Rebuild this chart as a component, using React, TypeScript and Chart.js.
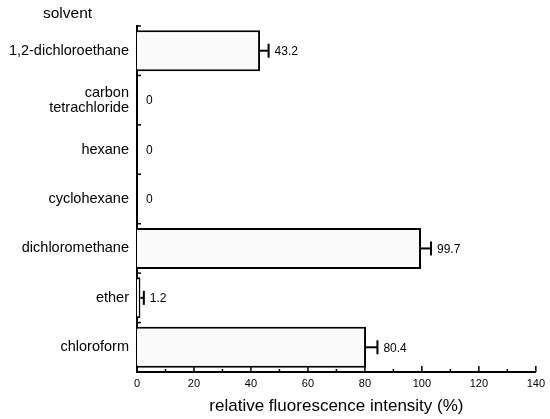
import React, { useEffect, useRef } from "react";
import { Chart, registerables } from "chart.js";

Chart.register(...registerables);

const solvents: (string | string[])[] = [
  "1,2-dichloroethane",
  ["carbon", "tetrachloride"],
  "hexane",
  "cyclohexane",
  "dichloromethane",
  "ether",
  "chloroform",
];
const intensity = [43.2, 0, 0, 0, 99.7, 1.2, 80.4];
const errorPlus = [3, 0, 0, 0, 3.5, 1.2, 4];
const valueLabels = ["43.2", "0", "0", "0", "99.7", "1.2", "80.4"];
const xMin = 0;
const xMax = 140;
const xStep = 20;
const xMinorStep = 10;
const yTitle = "solvent";
const xTitle = "relative fluorescence intensity (%)";

const FONT = "'Liberation Sans', Arial, Helvetica, sans-serif";
const INK = "#000000";

const decorPlugin = {
  id: "decor",
  afterDatasetsDraw(chart: any) {
    const ctx = chart.ctx as CanvasRenderingContext2D;
    const xs = chart.scales.x;
    const ys = chart.scales.y;
    const area = chart.chartArea;
    ctx.save();
    ctx.strokeStyle = INK;
    ctx.fillStyle = INK;

    // x ticks pointing inward (major + minor)
    ctx.lineWidth = 1.5;
    for (let v = xMin; v <= xMax; v += xMinorStep) {
      const px = xs.getPixelForValue(v);
      const len = v % xStep === 0 ? 6 : 3;
      ctx.beginPath();
      ctx.moveTo(px, area.bottom);
      ctx.lineTo(px, area.bottom - len);
      ctx.stroke();
    }

    // y boundary ticks
    const n = solvents.length;
    const band = (area.bottom - area.top) / n;
    for (let i = 0; i <= n; i++) {
      const py = area.top + band * i;
      ctx.beginPath();
      ctx.moveTo(area.left - 1, py);
      ctx.lineTo(area.left + 4, py);
      ctx.stroke();
    }

    // error whiskers and value labels
    ctx.font = `12px ${FONT}`;
    ctx.textBaseline = "middle";
    ctx.textAlign = "left";
    for (let i = 0; i < intensity.length; i++) {
      const v = intensity[i];
      const e = errorPlus[i];
      const py = ys.getPixelForValue(i);
      const x0 = xs.getPixelForValue(v);
      let labelX = xs.getPixelForValue(0) + 9;
      if (e > 0) {
        const x1 = xs.getPixelForValue(v + e);
        ctx.lineWidth = 2;
        ctx.beginPath();
        ctx.moveTo(x0, py);
        ctx.lineTo(x1, py);
        ctx.stroke();
        ctx.beginPath();
        ctx.moveTo(x1, py - 7);
        ctx.lineTo(x1, py + 7);
        ctx.stroke();
        labelX = x1 + 6;
      }
      ctx.fillText(valueLabels[i], labelX, py + 1);
    }

    // axis group title
    ctx.font = `15.5px ${FONT}`;
    ctx.textAlign = "left";
    ctx.textBaseline = "middle";
    ctx.fillText(yTitle, 43, 14);
    ctx.restore();
  },
};

export default function App() {
  const ref = useRef<HTMLCanvasElement | null>(null);

  useEffect(() => {
    if (!ref.current) return;
    const chart = new Chart(ref.current, {
      type: "bar",
      data: {
        labels: solvents as any,
        datasets: [
          {
            data: intensity,
            backgroundColor: "#fafafa",
            borderColor: INK,
            borderWidth: 2,
            borderSkipped: "start",
            barPercentage: 0.83,
            categoryPercentage: 1,
          },
        ],
      },
      options: {
        indexAxis: "y",
        responsive: false,
        animation: false,
        layout: { padding: { left: 0, right: 13, top: 26, bottom: 0 } },
        plugins: {
          legend: { display: false },
          tooltip: { enabled: false },
          title: { display: false },
        },
        scales: {
          x: {
            type: "linear",
            min: xMin,
            max: xMax,
            ticks: {
              stepSize: xStep,
              color: INK,
              font: { family: FONT, size: 11 },
              padding: 5,
            },
            grid: { display: false, drawTicks: false },
            border: { display: true, color: INK, width: 2 },
            title: {
              display: true,
              text: xTitle,
              color: INK,
              font: { family: FONT, size: 17 },
              padding: { top: 0, bottom: 2 },
            },
            afterFit(scale: any) {
              scale.height = 47;
            },
          },
          y: {
            type: "category",
            offset: true,
            ticks: {
              color: INK,
              font: { family: FONT, size: 14.5, lineHeight: 1.05 },
              padding: 8,
              autoSkip: false,
            },
            grid: { display: false, drawTicks: false },
            border: { display: true, color: INK, width: 2 },
            afterFit(scale: any) {
              scale.width = 137;
            },
          },
        },
      },
      plugins: [decorPlugin],
    });
    return () => chart.destroy();
  }, []);

  return (
    <div style={{ position: "absolute", left: 0, top: 0, width: 550, height: 419, background: "#fff" }}>
      <canvas ref={ref} width={550} height={419} style={{ display: "block" }} />
    </div>
  );
}
